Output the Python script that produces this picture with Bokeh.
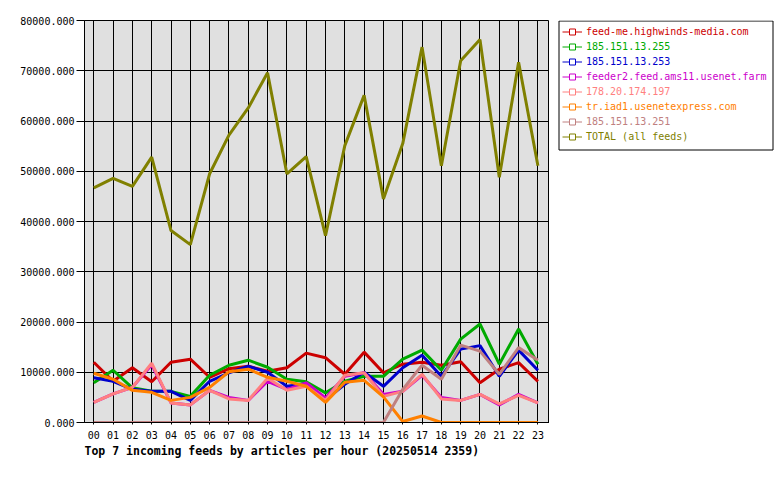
from bokeh.plotting import figure
from bokeh.models import Range1d, FixedTicker, PrintfTickFormatter, Legend, LegendItem, BoxAnnotation
from bokeh.layouts import row
from bokeh.embed import file_html
from bokeh.resources import INLINE

hours = ["00", "01", "02", "03", "04", "05", "06", "07", "08", "09", "10", "11",
         "12", "13", "14", "15", "16", "17", "18", "19", "20", "21", "22", "23"]

feed_me = [12000, 8200, 10900, 8100, 12000, 12600, 9000, 10700, 11200, 10200, 10900, 13800,
           12900, 9600, 14000, 9900, 11600, 12000, 11400, 12100, 7900, 10600, 11900, 8200]
h255 = [7900, 10400, 6900, 6200, 6200, 5200, 9400, 11400, 12400, 11000, 8600, 8100,
        5900, 8200, 9200, 9200, 12600, 14400, 10400, 16600, 19600, 11600, 18600, 11600]
h253 = [8900, 8200, 6600, 6200, 6200, 4400, 8200, 9900, 11200, 10000, 7200, 7700,
        4500, 7600, 10000, 7200, 10900, 13400, 9200, 14600, 15300, 9200, 14400, 10400]
feeder2 = [4000, 5700, 7000, 11500, 3900, 3500, 6400, 5000, 4400, 8200, 6600, 7900,
           4900, 9200, 9900, 5600, 6200, 9400, 5000, 4400, 5600, 3500, 5600, 3900]
h197 = [4000, 5700, 7000, 11800, 3900, 3500, 6400, 4700, 4400, 8800, 6400, 7200,
        4400, 9400, 9900, 5200, 6200, 9600, 4700, 4400, 5600, 3700, 5400, 3900]
iad1 = [9800, 8600, 6400, 6000, 4400, 5000, 7000, 10100, 10600, 9000, 8200, 7200,
        4000, 8000, 8400, 5100, 200, 1300, 0, 0, 0, 0, 0, 0]
h251 = [0, 0, 0, 0, 0, 0, 0, 0, 0, 0, 0, 0,
        0, 0, 0, 0, 6600, 11400, 8600, 15400, 14200, 9600, 14900, 12400]
total = [46700, 48600, 47000, 52800, 38200, 35400, 49500, 57200, 62600, 69600, 49500, 52900,
         37200, 55100, 65100, 44500, 55500, 74700, 51100, 72000, 76200, 48800, 71700, 51100]

series_names = ["feed-me.highwinds-media.com", "185.151.13.255", "185.151.13.253",
                "feeder2.feed.ams11.usenet.farm", "178.20.174.197", "tr.iad1.usenetexpress.com",
                "185.151.13.251", "TOTAL (all feeds)"]
series_values = [feed_me, h255, h253, feeder2, h197, iad1, h251, total]
colors = ["#cc0000", "#00aa00", "#0000cc", "#cc00cc", "#ff8080", "#ff8000", "#c08080", "#808000"]
y_ticks = [0, 10000, 20000, 30000, 40000, 50000, 60000, 70000, 80000]
title_text = "Top 7 incoming feeds by articles per hour (20250514 2359)"

FONT = "DejaVu Sans Mono"
xs = list(range(len(hours)))

p = figure(width=549, height=480, output_backend="svg", toolbar_location=None,
           x_range=Range1d(-0.48, 23.6), y_range=Range1d(0, 80000),
           min_border_left=84, min_border_right=0, min_border_top=20, min_border_bottom=58,
           title=title_text, title_location="below")
p.background_fill_color = "#e0e0e0"
p.border_fill_color = "white"
p.outline_line_color = "black"
p.outline_line_width = 1
p.outline_line_alpha = 1

for vals, c in zip(series_values, colors):
    p.line(xs, vals, line_color=c, line_width=3)

p.xaxis.ticker = FixedTicker(ticks=xs)
p.xaxis.major_label_overrides = {i: h for i, h in enumerate(hours)}
p.yaxis.ticker = FixedTicker(ticks=y_ticks)
p.yaxis.formatter = PrintfTickFormatter(format="%.3f")
for ax in (p.xaxis, p.yaxis):
    ax.major_label_text_font = FONT
    ax.major_label_text_font_size = "10px"
    ax.major_label_text_color = "black"
    ax.axis_line_color = "black"
    ax.major_tick_line_color = "black"
    ax.minor_tick_line_color = None
    ax.major_tick_in = 0
p.yaxis.major_tick_out = 8
p.yaxis.major_label_standoff = 2
p.xaxis.major_tick_out = 2
p.xaxis.major_label_standoff = 6

p.xgrid.ticker = FixedTicker(ticks=xs)
p.ygrid.ticker = FixedTicker(ticks=y_ticks)
for g in (p.xgrid, p.ygrid):
    g.grid_line_color = "black"
    g.grid_line_width = 1
    g.grid_line_alpha = 1

p.title.text_font = FONT
p.title.text_font_size = "11.5px"
p.title.text_font_style = "bold"
p.title.text_color = "black"
p.title.align = "left"
p.title.offset = 0
p.title.standoff = 0

# legend panel: its frame is aligned with the main plot's frame (y 20..422)
q = figure(width=231, height=480, output_backend="svg", toolbar_location=None,
           x_range=Range1d(0, 231), y_range=Range1d(0, 402),
           min_border_left=0, min_border_right=0, min_border_top=20, min_border_bottom=58)
q.axis.visible = False
q.grid.visible = False
q.outline_line_color = None
q.background_fill_color = "white"
q.border_fill_color = "white"

box = BoxAnnotation(left=9.5, right=223.5, top=401.5, bottom=272.5,
                    fill_color="white", fill_alpha=1,
                    line_color="black", line_alpha=1, line_width=1)
q.add_layout(box)

for i, (name, c) in enumerate(zip(series_names, colors)):
    ln = q.line([-5, -4], [-5, -4], line_color=c, line_width=1)
    mk = q.scatter([-5], [-5], marker="square", size=4, line_color=c, fill_color="white", line_width=1)
    lg = Legend(items=[LegendItem(label=name, renderers=[ln, mk])],
                location=(13, 383 - 15 * i))
    lg.label_text_font = FONT
    lg.label_text_font_size = "10px"
    lg.label_text_color = c
    lg.label_height = 15
    lg.glyph_height = 15
    lg.glyph_width = 20
    lg.label_standoff = 4
    lg.padding = 0
    lg.margin = 0
    lg.spacing = 0
    lg.border_line_alpha = 0
    lg.background_fill_alpha = 0
    q.add_layout(lg, "center")

layout = row(p, q)
open("out.html", "w").write(file_html(layout, INLINE))
